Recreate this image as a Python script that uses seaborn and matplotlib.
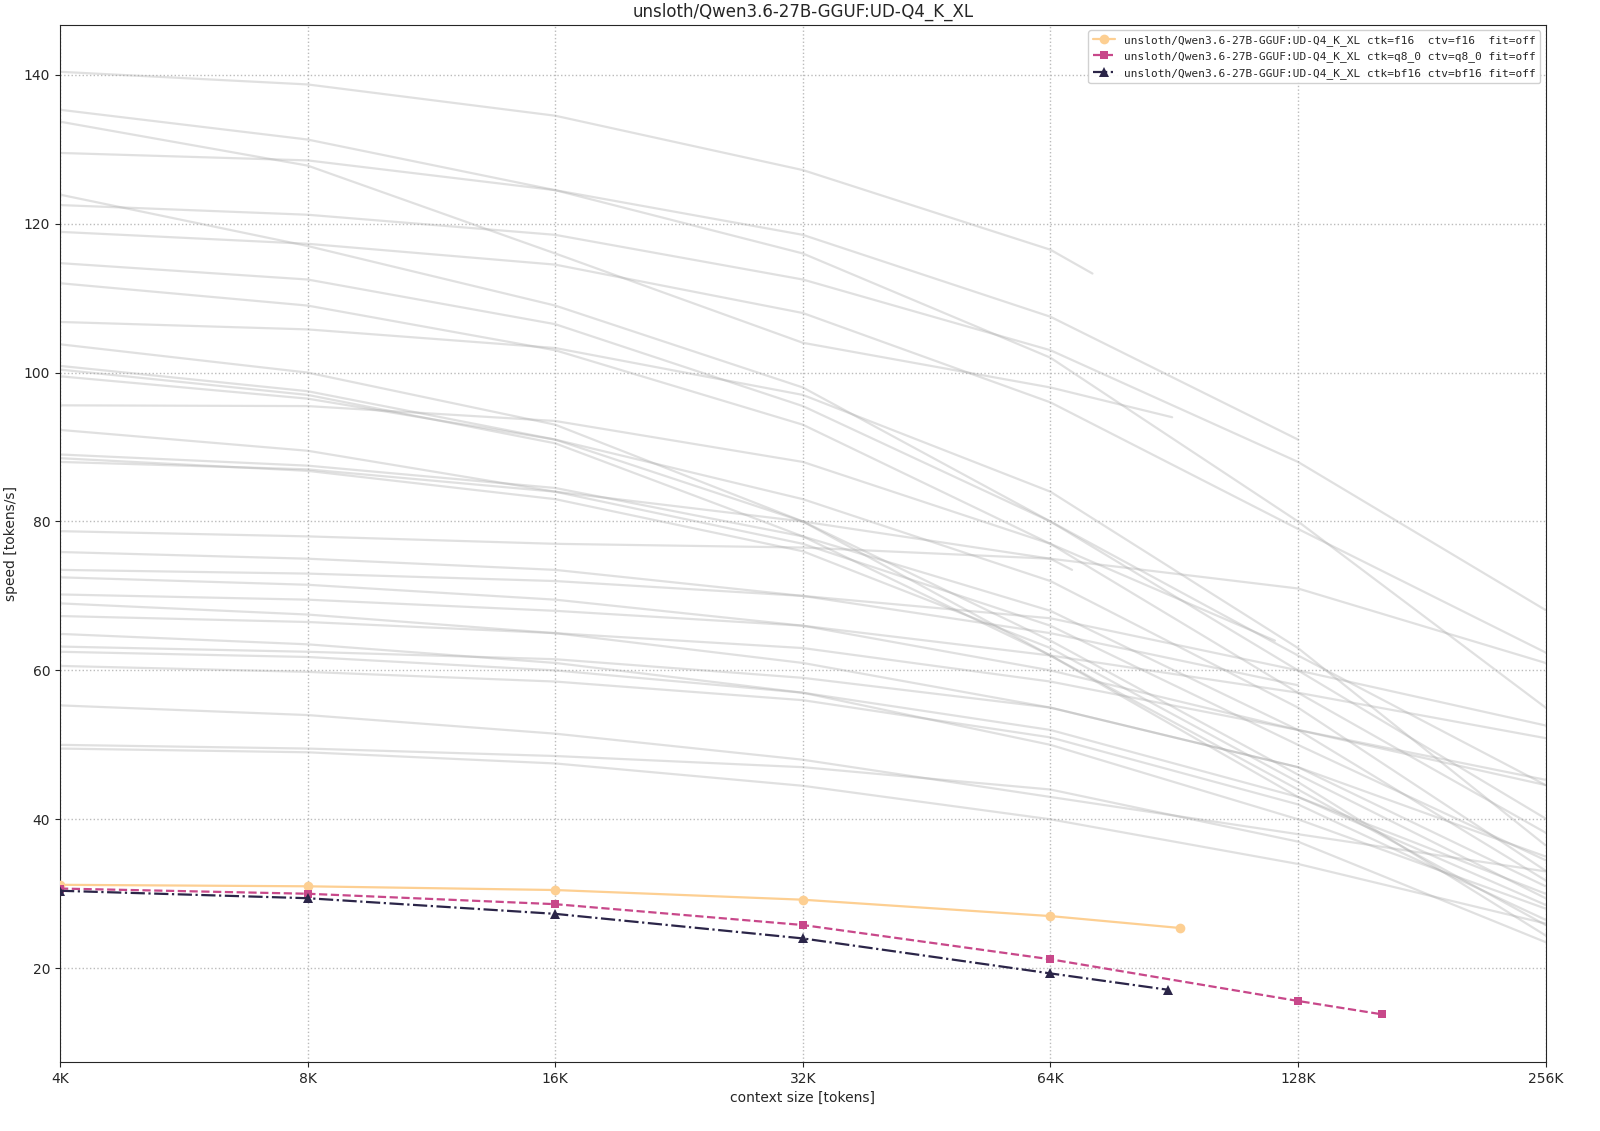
import numpy as np
import pandas as pd
import seaborn as sns
import matplotlib.pyplot as plt
from matplotlib.ticker import FixedLocator, NullLocator

title = "unsloth/Qwen3.6-27B-GGUF:UD-Q4_K_XL"

# highlighted runs: context size (K tokens) and speed (tokens/s)
f16_ctx = [4, 8, 16, 32, 64, 92]
f16_speed = [31.2, 31.0, 30.5, 29.2, 27.0, 25.4]
q8_ctx = [4, 8, 16, 32, 64, 128, 162]
q8_speed = [30.7, 30.0, 28.6, 25.8, 21.2, 15.6, 13.8]
bf16_ctx = [4, 8, 16, 32, 64, 89]
bf16_speed = [30.4, 29.4, 27.3, 24.0, 19.3, 17.1]

labels = [
    "unsloth/Qwen3.6-27B-GGUF:UD-Q4_K_XL ctk=f16  ctv=f16  fit=off",
    "unsloth/Qwen3.6-27B-GGUF:UD-Q4_K_XL ctk=q8_0 ctv=q8_0 fit=off",
    "unsloth/Qwen3.6-27B-GGUF:UD-Q4_K_XL ctk=bf16 ctv=bf16 fit=off",
]

# other models in the background (context K, speed)
full = [4, 8, 16, 32, 64, 128, 256]
gray_curves = [
    ([4, 8, 16, 32, 64, 72], [140.4, 138.7, 134.5, 127.2, 116.5, 113.3]),
    ([4, 8, 16, 32, 64, 128], [135.3, 131.3, 124.5, 118.5, 107.5, 91.0]),
    ([4, 8, 16, 32, 64, 90], [133.7, 127.8, 116.0, 104.0, 98.0, 94.0]),
    (full, [129.5, 128.5, 124.5, 116.0, 102.0, 80.0, 55.0]),
    (full, [122.5, 121.2, 118.5, 112.5, 103.0, 88.0, 68.1]),
    (full, [123.9, 117.0, 109.0, 98.0, 80.0, 62.0, 44.6]),
    (full, [118.9, 117.3, 114.5, 108.0, 96.0, 79.0, 62.4]),
    (full, [114.7, 112.5, 106.5, 95.5, 80.0, 60.0, 40.1]),
    (full, [112.0, 109.0, 103.0, 93.0, 77.0, 57.0, 38.2]),
    (full, [106.8, 105.8, 103.3, 97.0, 84.0, 63.0, 36.5]),
    (full, [103.8, 100.0, 93.0, 80.0, 62.0, 43.0, 28.5]),
    (full, [100.9, 97.5, 91.0, 80.0, 64.0, 46.0, 29.4]),
    (full, [100.4, 97.0, 90.5, 78.0, 62.0, 44.0, 25.8]),
    (full, [99.5, 96.5, 91.0, 83.0, 72.0, 55.0, 33.1]),
    ([4, 8, 16, 32, 64, 120], [95.6, 95.5, 93.5, 88.0, 77.0, 64.0]),
    (full, [92.3, 89.5, 84.0, 77.0, 66.0, 50.0, 34.5]),
    (full, [89.0, 87.5, 84.5, 78.0, 68.0, 52.0, 31.8]),
    (full, [88.5, 86.8, 83.0, 76.0, 63.0, 45.0, 24.4]),
    ([4, 8, 16, 32, 64, 68], [88.0, 87.0, 84.0, 80.0, 75.0, 73.5]),
    (full, [78.7, 78.0, 77.0, 76.5, 75.0, 71.0, 61.0]),
    ([4, 8, 16, 32, 64, 128], [75.9, 75.0, 73.5, 70.0, 65.0, 58.0]),
    (full, [73.5, 73.0, 72.0, 70.0, 67.0, 60.0, 52.6]),
    (full, [72.5, 71.5, 69.5, 66.0, 60.0, 52.0, 44.6]),
    (full, [70.2, 69.5, 68.0, 66.0, 62.0, 57.0, 50.9]),
    (full, [69.0, 67.5, 65.0, 61.0, 55.0, 47.0, 35.0]),
    (full, [67.3, 66.5, 65.0, 63.0, 58.5, 52.0, 45.3]),
    (full, [64.9, 63.5, 61.0, 57.0, 50.0, 40.0, 28.0]),
    (full, [63.2, 62.5, 61.5, 59.0, 55.0, 47.0, 31.0]),
    (full, [62.5, 61.8, 60.0, 57.0, 52.0, 43.0, 30.0]),
    (full, [60.6, 59.8, 58.5, 56.0, 51.0, 42.0, 26.5]),
    (full, [55.3, 54.0, 51.5, 48.0, 43.0, 38.0, 33.0]),
    (full, [50.0, 49.5, 48.5, 47.0, 44.0, 37.0, 23.5]),
    (full, [49.5, 49.0, 47.5, 44.5, 40.0, 34.0, 26.0]),
]

sns.set_style("ticks")
fig, ax = plt.subplots(figsize=(16, 11.31), dpi=100)
fig.subplots_adjust(left=0.0375, right=0.966, top=0.978, bottom=0.061)

for xs, ys in gray_curves:
    ax.plot(xs, ys, color="#a8a8a8", alpha=0.35, lw=1.6, zorder=1)

sns.lineplot(x=f16_ctx, y=f16_speed, ax=ax, color="#fdcf92", marker="o",
             markersize=7, markeredgewidth=0, lw=1.6, label=labels[0], zorder=3)
sns.lineplot(x=q8_ctx, y=q8_speed, ax=ax, color="#c8488a", marker="s",
             markersize=6, markeredgewidth=0, lw=1.6, linestyle="--",
             label=labels[1], zorder=3)
sns.lineplot(x=bf16_ctx, y=bf16_speed, ax=ax, color="#2b2548", marker="^",
             markersize=7, markeredgewidth=0, lw=1.6, linestyle="-.",
             label=labels[2], zorder=3)

ax.set_xscale("log", base=2)
ax.set_xlim(4, 256)
ax.set_ylim(7.4, 146.7)
ticks = [4, 8, 16, 32, 64, 128, 256]
ax.xaxis.set_major_locator(FixedLocator(ticks))
ax.xaxis.set_minor_locator(NullLocator())
ax.set_xticklabels([f"{t}K" for t in ticks])
ax.set_yticks([20, 40, 60, 80, 100, 120, 140])
ax.grid(True, linestyle=":", color="#bbbbbb", lw=1)
ax.tick_params(labelsize=10)
ax.set_xlabel("context size [tokens]", fontsize=10)
ax.set_ylabel("speed [tokens/s]", fontsize=10)
ax.set_title(title, fontsize=12)
for s in ax.spines.values():
    s.set_visible(True)
ax.legend(loc="upper right", prop={"family": "DejaVu Sans Mono", "size": 8},
          framealpha=0.9)

plt.savefig("out.png")
